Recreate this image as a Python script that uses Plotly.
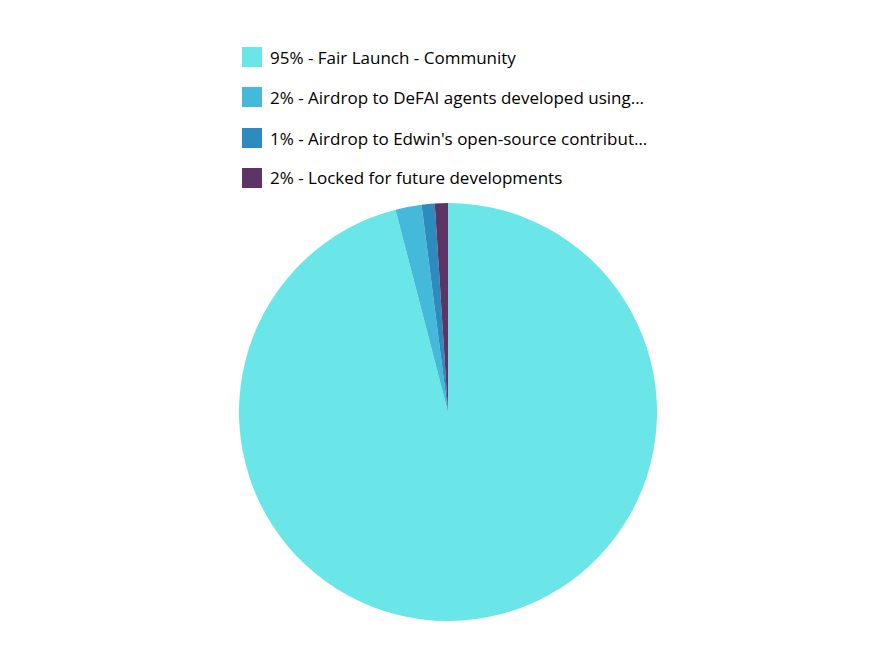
import plotly.graph_objects as go

labels = [
    "95% - Fair Launch - Community",
    "2% - Airdrop to DeFAI agents developed using…",
    "1% - Airdrop to Edwin's open-source contribut…",
    "2% - Locked for future developments",
]
values = [95, 2, 1, 1]
colors = ["#6ae5e8", "#45b9d9", "#2e8bbd", "#5c3566"]

W, H = 896, 672
fig = go.Figure()
fig.add_trace(go.Pie(
    labels=labels, values=values, sort=False, direction="clockwise", rotation=0,
    marker=dict(colors=colors, line=dict(width=0)),
    textinfo="none", hoverinfo="label+value", showlegend=False,
    domain=dict(x=[(448 - 209) / W, (448 + 209) / W], y=[(H - 621) / H, (H - 203) / H]),
))

# custom legend built from the label / colour arrays
row_y = [57, 97, 138, 178]
for lab, col, y in zip(labels, colors, row_y):
    fig.add_shape(type="rect", xref="paper", yref="paper",
                  x0=242 / W, x1=262 / W, y0=(H - y - 10) / H, y1=(H - y + 10) / H,
                  fillcolor=col, line=dict(width=0))
    fig.add_annotation(x=268 / W, y=(H - y) / H, xref="paper", yref="paper",
                       text=lab, showarrow=False, xanchor="left", yanchor="middle",
                       font=dict(family="Open Sans", size=17, color="#000000"))

fig.update_layout(width=W, height=H, margin=dict(l=0, r=0, t=0, b=0),
                  paper_bgcolor="white", plot_bgcolor="white")
fig.write_html("out.html")
